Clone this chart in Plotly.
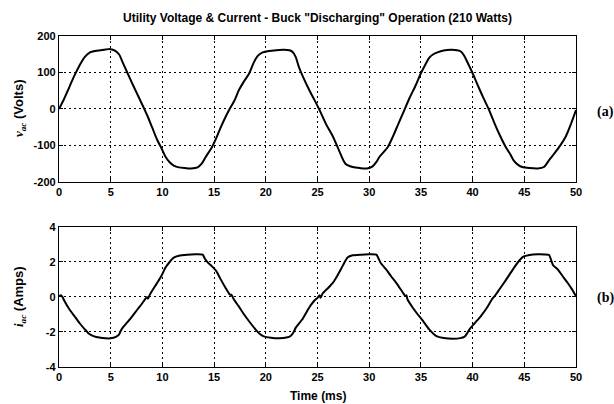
import plotly.graph_objects as go

# Utility voltage samples (ms, volts)
time_v_ms = [0, 0.5, 1.0, 1.5, 2.0, 2.5, 3.0, 3.5, 4.0, 4.5, 5.0, 5.4, 5.8, 6.2, 6.6, 7.0,
             7.5, 8.0, 8.3, 8.6, 9.0, 9.5, 9.9, 10.3, 10.7, 11.1, 11.6, 12.2, 12.8, 13.4,
             13.8, 14.2, 14.8, 15.2, 15.6, 16.0, 16.45, 17.0, 17.4, 17.9, 18.4, 18.8, 19.2,
             19.7, 20.3, 21.0, 21.7, 22.3, 22.6, 22.9, 23.2, 23.6, 24.2, 24.7, 25.2, 25.8,
             26.5, 27.1, 27.7, 28.4, 29.1, 29.8, 30.3, 30.7, 31.0, 31.8, 32.3, 32.8, 33.4,
             33.9, 34.5, 35.0, 35.4, 35.8, 36.2, 36.6, 37.2, 37.9, 38.5, 38.9, 39.2, 39.5,
             40.0, 40.5, 41.0, 41.6, 42.1, 42.6, 43.2, 43.6, 44.0, 44.4, 44.8, 45.5, 46.3,
             46.9, 47.4, 47.9, 48.5, 49.0, 49.5, 50.0]
v_ac_volts = [0, 28, 60, 92, 120, 143, 155, 159, 161, 163, 164, 160, 150, 125, 100, 75,
              45, 15, -3, -22, -50, -85, -107, -131, -146, -155, -160, -162, -163, -160,
              -150, -131, -104, -80, -53, -28, -3, 25, 52, 76, 98, 125, 145,
              155, 159, 161, 162, 161, 156, 142, 115, 88, 52, 25, -3, -40,
              -76, -115, -150, -159, -162, -163, -158, -145, -131, -104, -75, -42, -3,
              30, 65, 98, 120, 140, 150, 155, 160, 162, 161, 157, 145, 128,
              98, 65, 33, -3, -38, -70, -104, -122, -142, -153, -159, -162, -163,
              -159, -140, -122, -99, -76, -42, -3]

# Utility current samples (ms, amps)
time_i_ms = [0, 0.2, 0.35, 0.5, 1.0, 1.5, 2.0, 2.5, 2.9, 3.4, 3.9, 4.5, 5.0, 5.5, 5.8, 6.0,
             6.2, 6.6, 7.1, 7.6, 8.0, 8.3, 8.5, 8.6, 8.8, 9.4, 9.9, 10.3, 10.7, 11.1, 11.6,
             12.4, 13.2, 13.9, 14.1, 14.4, 14.8, 15.2, 15.6, 16.1, 16.5, 16.7, 16.9, 17.4,
             17.9, 18.4, 19.0, 19.4, 19.8, 20.5, 21.3, 22.0, 22.4, 22.7, 22.9, 23.5, 24.2,
             24.7, 25.0, 25.2, 25.3, 25.5, 26.0, 26.5, 27.0, 27.5, 27.9, 28.4, 29.2, 30.0,
             30.7, 30.9, 31.1, 31.6, 32.1, 32.6, 33.2, 33.5, 33.6, 33.7, 34.2, 34.7, 35.2,
             35.8, 36.5, 37.2, 38.1, 38.8, 39.2, 39.5, 39.7, 40.2, 40.8, 41.4, 41.8, 42.0,
             42.2, 42.6, 43.2, 43.9, 44.4, 44.9, 45.5, 46.3, 47.0, 47.4, 47.6, 47.8, 48.2,
             48.7, 49.2, 49.6, 50.0]
i_ac_amps = [0.05, 0.1, -0.02, -0.2, -0.7, -1.1, -1.5, -1.85, -2.1, -2.25, -2.32, -2.36, -2.36,
             -2.28, -2.15, -1.9, -1.72, -1.45, -1.09, -0.7, -0.4, -0.15, 0.0, -0.1, 0.15,
             0.72, 1.2, 1.68, 2.0, 2.25, 2.36, 2.42, 2.44, 2.42, 2.2, 1.96, 1.75, 1.49,
             1.05, 0.53, 0.15, 0.1, -0.13, -0.55, -1.0, -1.4, -1.85, -2.1, -2.25, -2.33,
             -2.36, -2.32, -2.23, -2.0, -1.75, -1.3, -0.6, -0.2, -0.05, 0.1, -0.05, 0.2,
             0.5, 0.82, 1.3, 1.85, 2.25, 2.38, 2.42, 2.44, 2.42, 2.2, 1.96, 1.6, 1.2,
             0.82, 0.3, 0.05, 0.1, -0.13, -0.6, -1.0, -1.37, -1.85, -2.23, -2.34, -2.38,
             -2.35, -2.28, -2.05, -1.85, -1.5, -1.09, -0.6, -0.2, -0.04, 0.1, 0.44, 0.95,
             1.58, 2.0, 2.3, 2.4, 2.44, 2.43, 2.4, 2.1, 1.8, 1.6, 1.2, 0.8, 0.45, 0.05]

x_ticks = [0, 5, 10, 15, 20, 25, 30, 35, 40, 45, 50]
v_ticks = [-200, -100, 0, 100, 200]
v_tick_labels = ["-200", "-100", "0", "100", "200"]
i_ticks = [-4, -2, 0, 2, 4]
i_tick_labels = ["-4", "-2", "0", "2", "4"]

SANS = "Liberation Sans"
SERIF = "Liberation Serif"
tick_font = dict(family=SANS, size=11, color="black", weight="bold")

fig = go.Figure()
fig.add_trace(go.Scatter(x=time_v_ms, y=v_ac_volts, mode="lines",
                         line=dict(color="black", width=2, shape="spline", smoothing=0.8),
                         xaxis="x", yaxis="y", showlegend=False))
fig.add_trace(go.Scatter(x=time_i_ms, y=i_ac_amps, mode="lines",
                         line=dict(color="black", width=2, shape="spline", smoothing=0.5),
                         xaxis="x2", yaxis="y2", showlegend=False))

axis_style = dict(showline=True, linecolor="black", linewidth=1.3, mirror="ticks",
                  ticks="inside", ticklen=4, tickcolor="black", tickwidth=1,
                  showgrid=True, gridcolor="black", gridwidth=1, griddash="2px,3px",
                  zeroline=False, tickfont=tick_font)

fig.update_layout(
    width=614, height=404,
    margin=dict(l=59, r=38, t=36, b=37),
    paper_bgcolor="white", plot_bgcolor="white",
    title=dict(text='Utility Voltage & Current - Buck "Discharging" Operation (210 Watts)',
               x=0.5, xref="paper", xanchor="center",
               y=1 - 18 / 404, yref="container", yanchor="middle",
               font=dict(family=SANS, size=12, color="black", weight="bold")),
    xaxis=dict(domain=[0, 1], range=[0, 50], tickvals=x_ticks, anchor="y", **axis_style),
    yaxis=dict(domain=[0.559, 1], range=[-200, 200], tickvals=v_ticks,
               ticktext=v_tick_labels, anchor="x", **axis_style),
    xaxis2=dict(domain=[0, 1], range=[0, 50], tickvals=x_ticks, anchor="y2", **axis_style),
    yaxis2=dict(domain=[0, 0.423], range=[-4, 4], tickvals=i_ticks,
                ticktext=i_tick_labels, anchor="x2", **axis_style),
    annotations=[
        dict(text=f"<span style='font-family:{SERIF}'><i>v<sub>ac</sub></i></span> (Volts)",
             x=-0.0754, y=(0.559 + 1) / 2, xref="paper", yref="paper",
             xanchor="center", yanchor="middle", textangle=-90, showarrow=False,
             font=dict(family=SANS, size=13, color="black", weight="bold")),
        dict(text=f"<span style='font-family:{SERIF}'><i>i<sub>ac</sub></i></span> (Amps)",
             x=-0.0754, y=0.423 / 2, xref="paper", yref="paper",
             xanchor="center", yanchor="middle", textangle=-90, showarrow=False,
             font=dict(family=SANS, size=13, color="black", weight="bold")),
        dict(text="Time (ms)", x=0.5, y=-29 / 331, xref="paper", yref="paper",
             xanchor="center", yanchor="middle", showarrow=False,
             font=dict(family=SANS, size=12, color="black", weight="bold")),
        dict(text="(a)", x=1.037, y=0.770, xref="paper", yref="paper",
             xanchor="left", yanchor="middle", showarrow=False,
             font=dict(family=SERIF, size=14, color="black", weight="bold")),
        dict(text="(b)", x=1.037, y=0.208, xref="paper", yref="paper",
             xanchor="left", yanchor="middle", showarrow=False,
             font=dict(family=SERIF, size=14, color="black", weight="bold")),
    ],
)

fig.write_html("out.html")
